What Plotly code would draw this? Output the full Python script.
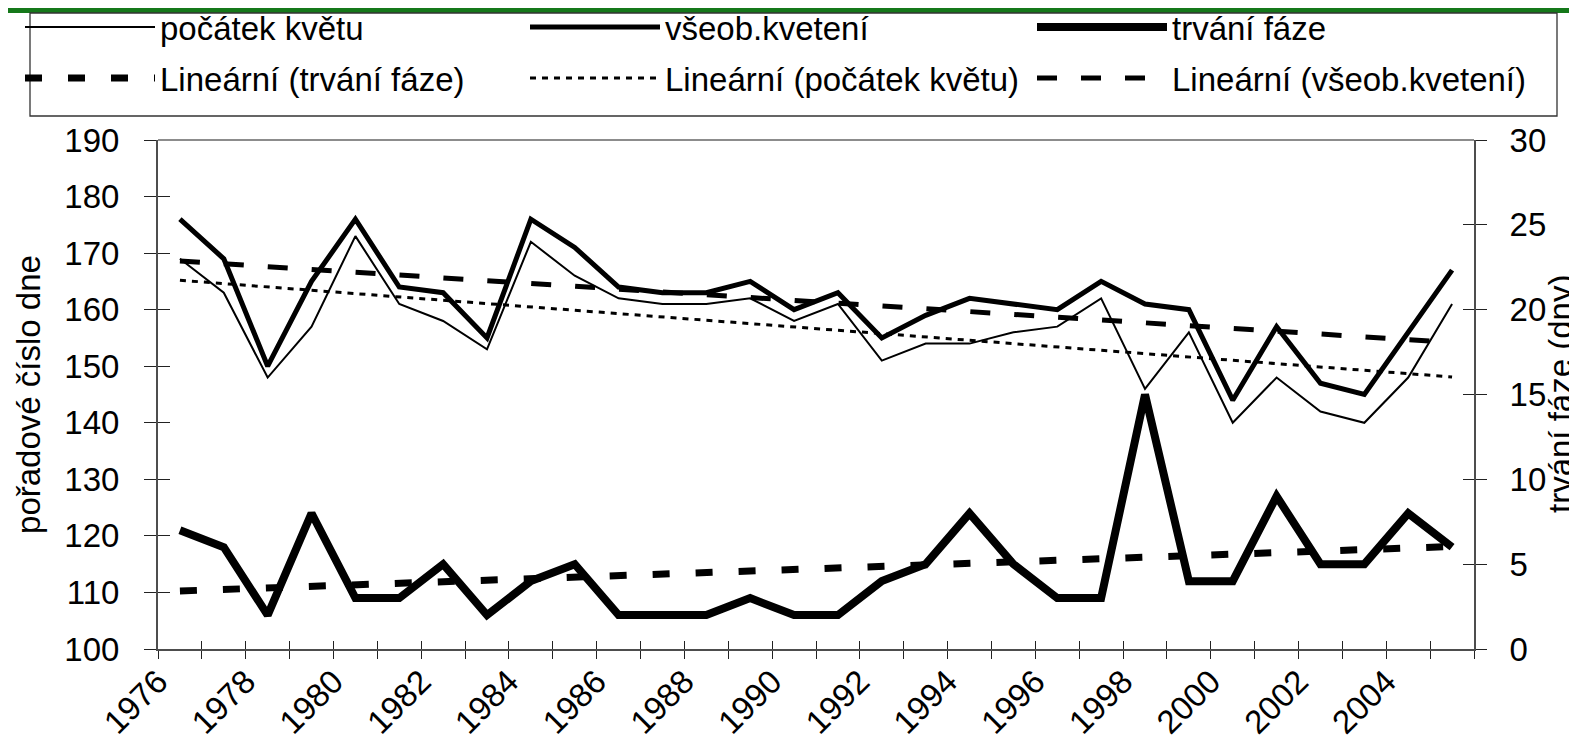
import plotly.graph_objects as go

# ---- data ----
years = list(range(1976, 2006))
pocatek = [169, 163, 148, 157, 173, 161, 158, 153, 172, 166, 162, 161, 161, 162, 158,
           161, 151, 154, 154, 156, 157, 162, 146, 156, 140, 148, 142, 140, 148, 161]
vseob = [176, 169, 150, 165, 176, 164, 163, 155, 176, 171, 164, 163, 163, 165, 160,
         163, 155, 159, 162, 161, 160, 165, 161, 160, 144, 157, 147, 145, 156, 167]
trvani = [7, 6, 2, 8, 3, 3, 5, 2, 4, 5, 2, 2, 2, 3, 2,
          2, 4, 5, 8, 5, 3, 3, 15, 4, 4, 9, 5, 5, 8, 6]
# linear trend lines (start / end values)
trend_years = [1976, 2005]
trend_pocatek = [165.2, 148.1]
trend_vseob = [168.6, 154.2]
trend_trvani = [3.42, 6.04]

label_years = list(range(1976, 2005, 2))
left_ticks = list(range(100, 191, 10))
right_ticks = list(range(0, 31, 5))

W, H = 1577, 745
ML, MR, MT, MB = 150, 111, 132, 104
PW, PH = W - ML - MR, H - MT - MB
FONT = "Liberation Sans, Arial, sans-serif"


def px2paper_x(px):
    return (px - ML) / PW


def px2paper_y(py):
    return (H - MB - py) / PH


fig = go.Figure()
fig.add_trace(go.Scatter(x=years, y=pocatek, name="počátek květu", mode="lines",
                         line=dict(color="black", width=2), legend="legend"))
fig.add_trace(go.Scatter(x=years, y=vseob, name="všeob.kvetení", mode="lines",
                         line=dict(color="black", width=5), legend="legend2"))
fig.add_trace(go.Scatter(x=years, y=trvani, name="trvání fáze", mode="lines", yaxis="y2",
                         line=dict(color="black", width=8), legend="legend3"))
fig.add_trace(go.Scatter(x=trend_years, y=trend_trvani, name="Lineární (trvání fáze)", mode="lines",
                         yaxis="y2", line=dict(color="black", width=7, dash="17px,26px"),
                         legend="legend4"))
fig.add_trace(go.Scatter(x=trend_years, y=trend_pocatek, name="Lineární (počátek květu)", mode="lines",
                         line=dict(color="black", width=3, dash="6px,6px"), legend="legend5"))
fig.add_trace(go.Scatter(x=trend_years, y=trend_vseob, name="Lineární (všeob.kvetení)", mode="lines",
                         line=dict(color="black", width=5, dash="20px,24px"), legend="legend6"))
# helper empty traces so that the overlay (inside-tick) axes are drawn
fig.add_trace(go.Scatter(x=[], y=[], xaxis="x2", yaxis="y3", showlegend=False, hoverinfo="skip"))
fig.add_trace(go.Scatter(x=[], y=[], xaxis="x", yaxis="y4", showlegend=False, hoverinfo="skip"))

AXC = "#4d4d4d"
common_font = dict(family=FONT, size=33, color="black")


def leg(x_px, y_px):
    return dict(orientation="h", xref="container", yref="container",
                x=x_px / W, xanchor="left", y=1 - y_px / H, yanchor="middle",
                itemwidth=130, font=common_font, bgcolor="rgba(0,0,0,0)", borderwidth=0)


col_x = [12, 517, 1024]
row_y = [19, 70]

fig.update_layout(
    width=W, height=H,
    margin=dict(l=ML, r=MR, t=MT, b=MB, autoexpand=False),
    paper_bgcolor="white", plot_bgcolor="white",
    font=common_font,
    xaxis=dict(range=[1975.5, 2005.5], showgrid=False, zeroline=False,
               showline=True, linecolor=AXC, linewidth=2,
               tickmode="array", tickvals=[y - 0.5 for y in label_years],
               ticktext=[str(y) for y in label_years], tickangle=-45,
               ticks="outside", ticklen=8, tickcolor="#222", tickwidth=1,
               minor=dict(tickmode="linear", tick0=1975.5, dtick=1, ticks="outside",
                          ticklen=8, tickcolor="#222", tickwidth=1, showgrid=False),
               tickfont=common_font, ticklabelstandoff=-10),
    xaxis2=dict(range=[1975.5, 2005.5], overlaying="x", anchor="y", side="bottom",
                showgrid=False, zeroline=False, showline=False, showticklabels=False,
                tickmode="linear", tick0=1975.5, dtick=1, ticks="inside", ticklen=8,
                tickcolor="#222", tickwidth=1),
    yaxis=dict(range=[100, 190], tickvals=left_ticks, showgrid=False, zeroline=False,
               showline=True, linecolor=AXC, linewidth=2,
               ticks="outside", ticklen=12, tickcolor="#222", tickwidth=1,
               tickfont=common_font, ticklabelstandoff=18,
               title=dict(text="pořadové číslo dne", font=common_font, standoff=14)),
    yaxis3=dict(range=[100, 190], tickvals=left_ticks, overlaying="y", anchor="x", side="left",
                showgrid=False, zeroline=False, showline=False, showticklabels=False,
                ticks="inside", ticklen=12, tickcolor="#222", tickwidth=1),
    yaxis2=dict(range=[0, 30], tickvals=right_ticks, overlaying="y", anchor="x", side="right",
                showgrid=False, zeroline=False, showline=True, linecolor=AXC, linewidth=2,
                ticks="outside", ticklen=11, tickcolor="#222", tickwidth=1,
                tickfont=common_font, ticklabelstandoff=16),
    yaxis4=dict(range=[0, 30], tickvals=right_ticks, overlaying="y", anchor="x", side="right",
                showgrid=False, zeroline=False, showline=False, showticklabels=False,
                ticks="inside", ticklen=11, tickcolor="#222", tickwidth=1),
    legend=leg(col_x[0], row_y[0]),
    legend2=leg(col_x[1], row_y[0]),
    legend3=leg(col_x[2], row_y[0]),
    legend4=leg(col_x[0], row_y[1]),
    legend5=leg(col_x[1], row_y[1]),
    legend6=leg(col_x[2], row_y[1]),
    showlegend=True,
    annotations=[
        # right axis title
        dict(text="trvání fáze (dny)", xref="paper", yref="paper",
             x=px2paper_x(1572), y=0.5, xanchor="right", yanchor="middle",
             textangle=-90, showarrow=False, font=common_font, borderpad=0),
    ],
    shapes=[
        # green band at the very top
        dict(type="rect", xref="paper", yref="paper",
             x0=px2paper_x(0), x1=px2paper_x(W), y0=px2paper_y(5), y1=px2paper_y(0),
             fillcolor="#15781a", line=dict(width=0), layer="above"),
        # legend frame
        dict(type="rect", xref="paper", yref="paper",
             x0=px2paper_x(22), x1=px2paper_x(1549), y0=px2paper_y(108), y1=px2paper_y(5),
             fillcolor="rgba(0,0,0,0)", line=dict(color="#333", width=1.3), layer="above"),
        # grey top border of the plot area
        dict(type="line", xref="paper", yref="paper", x0=0, x1=1, y0=1, y1=1,
             line=dict(color="#8c8c8c", width=2), layer="above"),
    ],
)

fig.write_html("out.html")
